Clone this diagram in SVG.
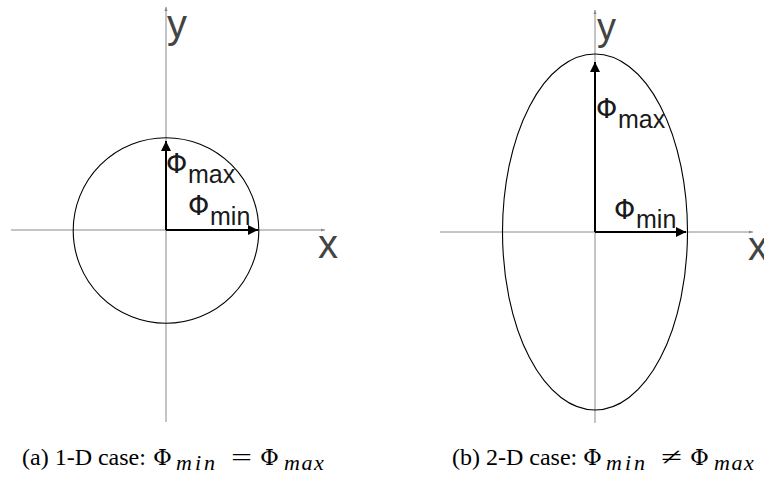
<svg xmlns="http://www.w3.org/2000/svg" width="764" height="477" viewBox="0 0 764 477">
<style>
.axis{stroke:#8a8a8a;stroke-width:1;fill:none}
.curve{stroke:#000;stroke-width:1.1;fill:none}
.vec{stroke:#000;stroke-width:2;fill:none}
.ax{font-family:"Liberation Sans",Arial,sans-serif;fill:#444}
.lbl{font-family:"Liberation Sans",Arial,sans-serif;fill:#1a1a1a}
.phi{font-family:"DejaVu Sans","Liberation Sans",sans-serif;font-size:27px}
.cap{font-family:"Liberation Serif","Times New Roman",serif;fill:#000;font-size:24px}
.cphi{font-family:"DejaVu Serif","Liberation Serif",serif;font-size:23px}
.it{font-style:italic;font-size:22px}
</style>
<defs>
<marker id="ah" viewBox="0 0 10 10" refX="10" refY="5" markerWidth="5" markerHeight="5" markerUnits="strokeWidth" orient="auto">
<path d="M0,0 L10,5 L0,10 z" fill="#000"/>
</marker>
<marker id="axh" viewBox="0 0 10 10" refX="10" refY="5" markerWidth="4" markerHeight="4" markerUnits="strokeWidth" orient="auto">
<path d="M0,1 L10,5 L0,9 z" fill="#8a8a8a"/>
</marker>
</defs>

<g id="connectors">
<line class="axis" x1="11" y1="230" x2="325" y2="230" marker-end="url(#axh)"/>
<line class="axis" x1="166" y1="422" x2="166" y2="7" marker-end="url(#axh)"/>
<line class="axis" x1="440" y1="232" x2="753" y2="232" marker-end="url(#axh)"/>
<line class="axis" x1="595" y1="423" x2="595" y2="10" marker-end="url(#axh)"/>
<line class="vec" x1="166" y1="230" x2="166" y2="141" marker-end="url(#ah)"/>
<line class="vec" x1="166" y1="230" x2="258" y2="230" marker-end="url(#ah)"/>
<line class="vec" x1="595" y1="232" x2="595" y2="62" marker-end="url(#ah)"/>
<line class="vec" x1="595" y1="232" x2="686" y2="232" marker-end="url(#ah)"/>
</g>

<g id="circle">
<circle class="curve" cx="166" cy="230.5" r="92.8"/>
</g>
<g id="ellipse">
<ellipse class="curve" cx="595" cy="232" rx="92.5" ry="178"/>
</g>

<g id="left-labels">
<text class="ax" x="167" y="38" font-size="40">y</text>
<text class="ax" x="318" y="258" font-size="40">x</text>
<text class="lbl" x="166" y="173"><tspan class="phi">Φ</tspan><tspan x="188" y="183" font-size="25">max</tspan></text>
<text class="lbl" x="188" y="215"><tspan class="phi">Φ</tspan><tspan x="210" y="225" font-size="25">min</tspan></text>
</g>

<g id="right-labels">
<text class="ax" x="597" y="40" font-size="38">y</text>
<text class="ax" x="748" y="260" font-size="40">x</text>
<text class="lbl" x="596" y="118"><tspan class="phi">Φ</tspan><tspan x="618" y="128" font-size="25">max</tspan></text>
<text class="lbl" x="614" y="219"><tspan class="phi">Φ</tspan><tspan x="636" y="228" font-size="25">min</tspan></text>
</g>

<g id="caption-a">
<text class="cap" x="22" y="465">(a) 1-D case:<tspan class="cphi" x="153">Φ</tspan><tspan class="it" x="176" y="470" letter-spacing="3">min</tspan><tspan class="cphi" x="260" y="465">Φ</tspan><tspan class="it" x="284" y="470" letter-spacing="1.5">max</tspan></text>
<text class="cap" x="231" y="465" textLength="21" lengthAdjust="spacingAndGlyphs">=</text>
</g>
<g id="caption-b">
<text class="cap" x="452" y="465">(b) 2-D case:<tspan class="cphi" x="583">Φ</tspan><tspan class="it" x="606" y="470" letter-spacing="3">min</tspan><tspan class="cphi" x="690" y="465">Φ</tspan><tspan class="it" x="714" y="470" letter-spacing="1.5">max</tspan></text>
<text class="cap" x="661" y="465" textLength="21" lengthAdjust="spacingAndGlyphs">≠</text>
</g>
</svg>
